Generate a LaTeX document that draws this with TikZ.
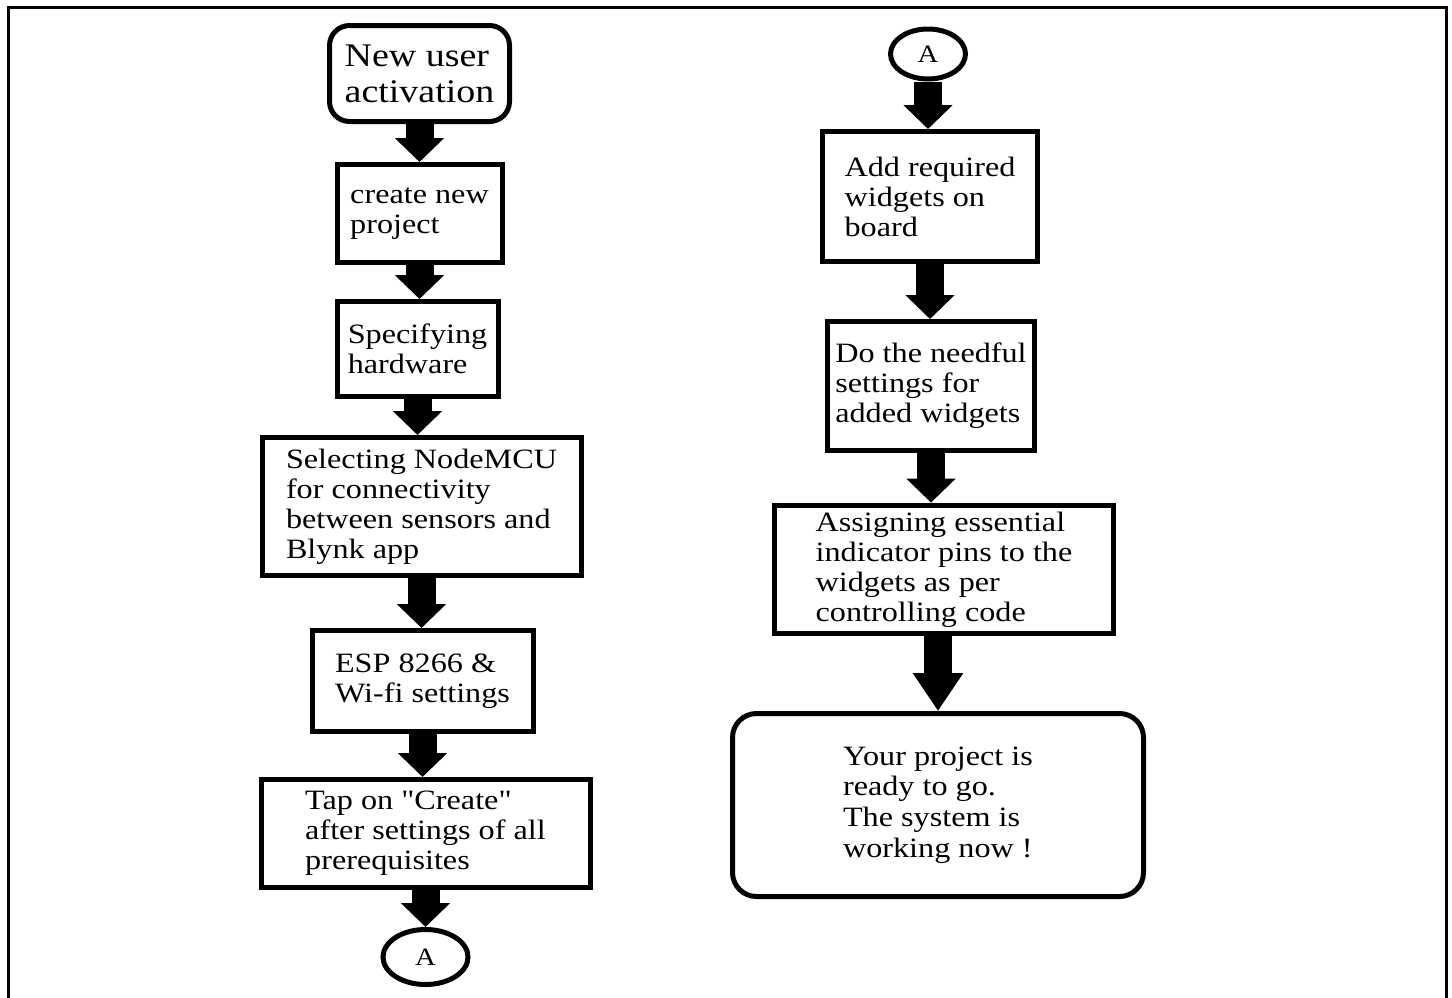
\documentclass[tikz,border=0pt]{standalone}
\usepackage{fontspec}
\setmainfont{Liberation Serif}[FakeStretch=1.15, Ligatures=TeXOff]
\usetikzlibrary{shapes.geometric, arrows.meta}
\tikzstyle{startstop} = [rectangle, draw, line width=2.5pt, rounded corners=10pt, align=left, font=\fontsize{14}{15.3}\selectfont]
\tikzstyle{process} = [rectangle, draw, line width=2.5pt, align=left, inner xsep=3pt, font=\fontsize{14}{15}\selectfont]
\tikzstyle{connector} = [ellipse, draw, line width=2.5pt, inner sep=0pt, font=\fontsize{12.5}{14}\selectfont]
\tikzstyle{arrow} = [line width=14pt, -{Triangle[width=24pt, length=12pt]}]

\begin{document}
\begin{tikzpicture}[node distance=70pt]

\useasboundingbox (0,0) rectangle (726pt,-498.5pt);
\draw [line width=1.5pt] (4pt,-3.5pt) rectangle (723pt,-520pt);

% left column
\node (start)	[startstop, minimum width=90pt, minimum height=48pt, font=\fontsize{16.5}{18}\selectfont] at (209.75pt,-36.75pt)	{New user\\activation};
\node (newproj)	[process, below of=start, minimum width=82.5pt, minimum height=49pt]	{create new\\project};
\node (hardware)	[process, below of=newproj, yshift=2.25pt, xshift=-1pt, minimum width=80.5pt, minimum height=47.5pt]	{Specifying\\hardware};
\node (nodemcu)	[process, below of=hardware, yshift=-8.75pt, xshift=2pt, minimum width=159.5pt, minimum height=69pt]	{Selecting NodeMCU\\for connectivity\\between sensors and\\Blynk app};
\node (wifi)	[process, below of=nodemcu, yshift=-17.25pt, xshift=0.5pt, minimum width=110.5pt, minimum height=50.5pt]	{ESP 8266 \&\\Wi-fi settings};
\node (create)	[process, below of=wifi, yshift=-6.25pt, xshift=1.5pt, minimum width=164.5pt, minimum height=54pt]	{Tap on "Create"\\after settings of all\\prerequisites};
\node (contA)	[connector, below of=create, yshift=8.25pt, minimum width=42.5pt, minimum height=27.5pt]	{A};

% right column
\node (contB)	[connector, minimum width=37.5pt, minimum height=25pt] at (464pt,-27pt)	{A};
\node (widgets)	[process, below of=contB, yshift=-1.25pt, xshift=1pt, minimum width=107.5pt, minimum height=65pt]	{Add required\\widgets on\\board};
\node (settings)	[process, below of=widgets, yshift=-24.75pt, xshift=0.5pt, minimum width=103.5pt, minimum height=64.5pt]	{Do the needful\\settings for\\added widgets};
\node (pins)	[process, below of=settings, yshift=-21.75pt, xshift=6.5pt, minimum width=169.5pt, minimum height=63pt]	{Assigning essential\\indicator pins to the\\widgets as per\\controlling code};
\node (ready)	[startstop, below of=pins, yshift=-47.75pt, xshift=-3pt, rounded corners=12pt, minimum width=205.5pt, minimum height=91.5pt]	{Your project is\\ready to go.\\The system is\\working now !};

\draw [arrow] (start.south) -- (start.south |- newproj.north);
\draw [arrow] (newproj.south) -- (newproj.south |- hardware.north);
\draw [arrow] (hardware.south) -- (hardware.south |- nodemcu.north);
\draw [arrow] (nodemcu.south) -- (nodemcu.south |- wifi.north);
\draw [arrow] (wifi.south) -- (wifi.south |- create.north);
\draw [arrow] (create.south) -- (create.south |- contA.north);

\draw [arrow] (contB.south) -- (contB.south |- widgets.north);
\draw [arrow] (widgets.south) -- (widgets.south |- settings.north);
\draw [arrow] (settings.south) -- (settings.south |- pins.north);
\draw [line width=14pt, -{Triangle[width=24pt, length=19pt]}] (pins.south -| ready.north) -- (ready.north);

\end{tikzpicture}
\end{document}
